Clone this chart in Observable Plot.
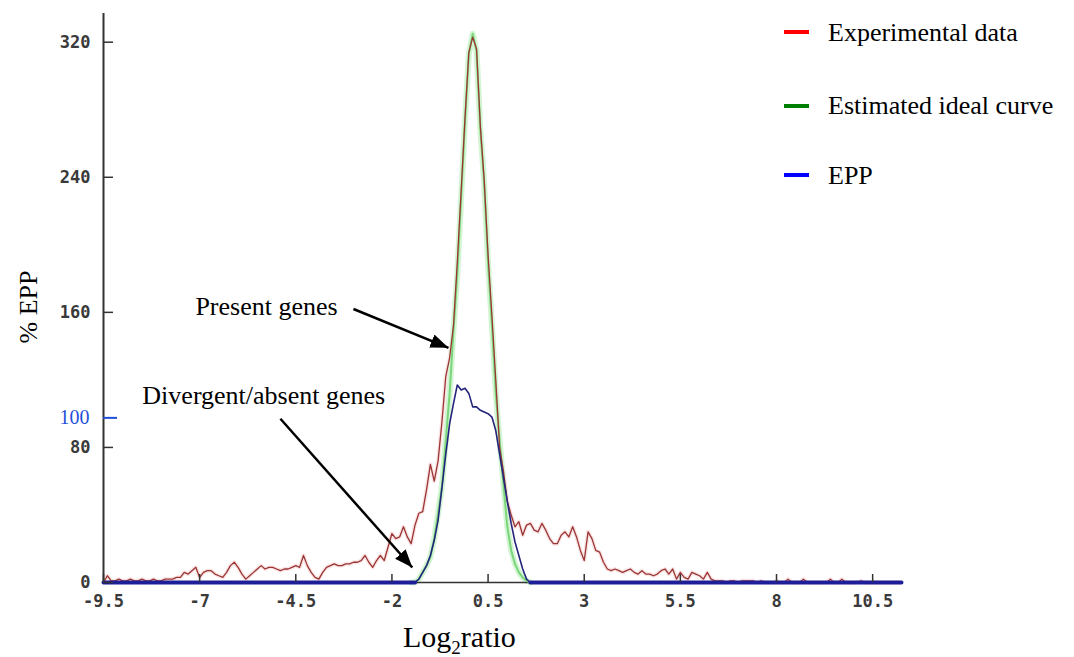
<!DOCTYPE html>
<html>
<head>
<meta charset="utf-8">
<script src="https://cdn.jsdelivr.net/npm/d3@7"></script>
<script src="https://cdn.jsdelivr.net/npm/@observablehq/plot@0.6"></script>
<style>
  body { margin: 0; background: #fff; }
  #wrap { position: relative; width: 1074px; height: 657px; overflow: hidden; background: #fff;
          font-family: "Liberation Serif", "Times New Roman", serif; color: #000; }
  #wrap svg { position: absolute; left: 0; top: 0; }
  .lg { position: absolute; font-size: 26px; line-height: 26px; white-space: nowrap; }
  .sw { position: absolute; width: 25px; height: 4px; }
  .xl { position: absolute; font-size: 30px; line-height: 30px; white-space: nowrap; }
  .xl span { font-size: 19px; position: relative; top: 7px; }
  .yl { position: absolute; font-size: 26px; line-height: 26px; white-space: nowrap;
        transform: translate(-50%, -50%) rotate(-90deg); }
</style>
</head>
<body>
<div id="wrap"></div>
<script>
// ---------- data ----------
const xDomain = [-9.5, 11.25];
const yDomain = [0, 337];
const xTicks = [-9.5, -7, -4.5, -2, 0.5, 3, 5.5, 8, 10.5];
const yTicks = [0, 80, 160, 240, 320];

// Experimental data (log2 ratio bins, % EPP)
const redX = [
  -9.5,-9.4,-9.3,-9.2,-9.1,-9.0,-8.9,-8.8,-8.7,-8.6,
  -8.5,-8.4,-8.3,-8.2,-8.1,-8.0,-7.9,-7.8,-7.7,-7.6,
  -7.5,-7.4,-7.3,-7.2,-7.1,-7.0,-6.9,-6.8,-6.7,-6.6,
  -6.5,-6.4,-6.3,-6.2,-6.1,-6.0,-5.9,-5.8,-5.7,-5.6,
  -5.5,-5.4,-5.3,-5.2,-5.1,-5.0,-4.9,-4.8,-4.7,-4.6,
  -4.5,-4.4,-4.3,-4.2,-4.1,-4.0,-3.9,-3.8,-3.7,-3.6,
  -3.5,-3.4,-3.3,-3.2,-3.1,-3.0,-2.9,-2.8,-2.7,-2.6,
  -2.5,-2.4,-2.3,-2.2,-2.1,-2.0,-1.9,-1.8,-1.7,-1.6,
  -1.5,-1.4,-1.3,-1.2,-1.1,-1.0,-0.9,-0.8,-0.7,-0.6,
  -0.5,-0.4,-0.3,-0.2,-0.1,0.0,0.1,0.2,0.3,0.4,
  0.5,0.6,0.7,0.8,0.9,1.0,1.1,1.2,1.3,1.4,
  1.5,1.6,1.7,1.8,1.9,2.0,2.1,2.2,2.3,2.4,
  2.5,2.6,2.7,2.8,2.9,3.0,3.1,3.2,3.3,3.4,
  3.5,3.6,3.7,3.8,3.9,4.0,4.1,4.2,4.3,4.4,
  4.5,4.6,4.7,4.8,4.9,5.0,5.1,5.2,5.3,5.4,
  5.5,5.6,5.7,5.8,5.9,6.0,6.1,6.2,6.3,6.4,
  6.5,6.6,6.7,6.8,6.9,7.0,7.1,7.2,7.3,7.4,
  7.5,7.6,7.7,7.8,7.9,8.0,8.1,8.2,8.3,8.4,
  8.5,8.6,8.7,8.8,8.9,9.0,9.1,9.2,9.3,9.4,
  9.5,9.6,9.7,9.8,9.9,10.0,10.1,10.2,10.3,10.4,
  10.5,10.6,10.7,10.8,10.9,11.0,11.1,11.2
];
const redY = [
  0,4,1,1,2,1,1,2,1,1,
  2,1,1,2,1,1,2,2,2,3,
  3,6,5,7,9,3,6,7,7,5,
  4,3,6,10,12,9,5,2,4,6,
  8,10,8,9,9,8,7,8,8,9,
  10,9,16,10,6,3,2,6,9,10,
  11,10,10,11,11,12,12,13,16,12,
  9,13,16,13,21,29,26,27,33,27,
  23,34,41,42,55,70,60,72,95,122,
  133,152,190,232,275,314,323,316,270,238,
  194,158,120,80,66,48,40,33,36,28,
  34,35,31,30,35,31,26,23,23,28,
  30,27,33,27,19,13,30,26,19,18,
  12,8,7,8,7,6,7,8,6,5,
  7,5,5,4,5,7,8,5,8,2,
  6,3,2,6,5,4,2,6,2,1,
  1,1,0,1,1,0,1,1,1,1,
  0,1,0,0,0,1,0,0,2,0,
  0,0,2,0,0,0,0,0,0,2,
  0,0,2,0,0,0,0,1,0,0,
  0,0,0,0,0,0,0,0
];

// Estimated ideal curve
const greenX = [-1.5,-1.4,-1.3,-1.2,-1.1,-1.0,-0.9,-0.8,-0.7,-0.6,-0.5,-0.4,-0.3,-0.2,-0.1,0.0,
                0.1,0.2,0.3,0.4,0.5,0.6,0.7,0.8,0.9,1.0,1.1,1.2,1.3,1.4,1.5,1.6];
const greenY = [0,0,2,6,10,15,26,41,57,84,112,149,182,228,273,313,
                325,315,268,236,189,152,112,84,58,33,19,11,6,3,1,0];

// EPP
const eppX = [-9.5,-1.5,-1.4,-1.3,-1.2,-1.1,-1.0,-0.9,-0.8,-0.7,-0.6,-0.5,-0.4,-0.3,-0.2,-0.1,0.0,
              0.1,0.2,0.3,0.4,0.5,0.6,0.7,0.8,0.9,1.0,1.1,1.2,1.3,1.4,1.5,1.6,11.25];
const eppY = [0,0,0,2,6,10,16,25,37,56,76,94,106,117,114,115,112,
              104,104,102,101,100,98,90,76,62,48,35,24,16,8,2,0,0];

// marker for the EPP 100 level (drawn slightly below 100 in the source)
const eppLevelPos = [97.5];
const eppLevelLabel = ["100"];

// annotations
const noteLabels = ["Present genes", "Divergent/absent genes"];
const noteX = [-7.11, -8.49];
const noteY = [158.6, 105.9];
const arrowX1 = [-3.0, -4.9];
const arrowY1 = [162, 97];
const arrowX2 = [-0.53, -1.47];
const arrowY2 = [139, 8.9];

const legendLabels = ["Experimental data", "Estimated ideal curve", "EPP"];
const legendColors = ["#ff0000", "#008000", "#0000ff"];

const yLabel = "% EPP";

// ---------- build ----------
const redData = redX.map((x, i) => ({x, y: redY[i]}));
const greenData = greenX.map((x, i) => ({x, y: greenY[i]}));
const eppData = eppX.map((x, i) => ({x, y: eppY[i]}));
const notes = noteLabels.map((label, i) => ({label, x: noteX[i], y: noteY[i]}));
const arrows = arrowX1.map((x1, i) => ({x1, y1: arrowY1[i], x2: arrowX2[i], y2: arrowY2[i]}));

function arrowHead(color) {
  const m = d3.create("svg:marker")
    .attr("viewBox", "-18 -7 18 14")
    .attr("markerWidth", 18)
    .attr("markerHeight", 14)
    .attr("markerUnits", "userSpaceOnUse")
    .attr("orient", "auto")
    .attr("fill", color)
    .attr("stroke", "none");
  m.append("path").attr("d", "M-18,-7L0,0L-18,7Z");
  return m.node();
}

const tickFont = {fontFamily: "DejaVu Sans Mono", fontSize: 17, fontWeight: "bold"};

const chart = Plot.plot({
  width: 1074,
  height: 657,
  marginLeft: 103,
  marginRight: 173,
  marginTop: 13,
  marginBottom: 75,
  x: {domain: xDomain, axis: null},
  y: {domain: yDomain, axis: null},
  style: {background: "transparent", overflow: "visible", fontFamily: "Liberation Serif"},
  marks: [
    // soft halos
    Plot.line(redData, {x: "x", y: "y", stroke: "#f4c6c6", strokeWidth: 4, strokeOpacity: 0.45}),
    Plot.line(greenData, {x: "x", y: "y", stroke: "#d4f5d4", strokeWidth: 6}),
    // axis lines
    Plot.ruleX([xDomain[0]], {stroke: "#333", strokeWidth: 2}),
    Plot.ruleY([yDomain[0]], {stroke: "#333", strokeWidth: 1.5}),
    // curves
    Plot.line(greenData, {x: "x", y: "y", stroke: "#7bd67b", strokeWidth: 2}),
    Plot.line(redData, {x: "x", y: "y", stroke: "#9b3535", strokeWidth: 1.3}),
    Plot.line(eppData, {x: "x", y: "y", stroke: "#24247c", strokeWidth: 1.6}),
    Plot.line(eppData, {x: "x", y: d => d.y === 0 ? 0 : NaN, stroke: "#1e1e96", strokeWidth: 4}),
    // axes
    Plot.axisY(yTicks, {tickSize: -10, fill: "none", stroke: "#333", strokeWidth: 1.5, label: null}),
    Plot.axisY(yTicks, {tickSize: 0, tickPadding: 13, fill: "#3a3a3a", label: null, tickFormat: d => String(d), ...tickFont}),
    Plot.axisX(xTicks, {tickSize: -8, fill: "none", stroke: "#333", strokeWidth: 1.5, label: null}),
    Plot.axisX(xTicks, {tickSize: 0, tickPadding: 12, fill: "#3a3a3a", label: null, tickFormat: d => String(d), ...tickFont}),
    // EPP 100 marker
    Plot.axisY(eppLevelPos, {tickSize: -14, fill: "none", stroke: "#1f4fd8", strokeWidth: 2, label: null}),
    Plot.axisY(eppLevelPos, {tickSize: 0, tickPadding: 14, fill: "#1f4fd8", label: null,
      tickFormat: (d, i) => eppLevelLabel[i], fontFamily: "Liberation Serif", fontSize: 20}),
    // annotations
    Plot.link(arrows, {x1: "x1", y1: "y1", x2: "x2", y2: "y2", stroke: "#000", strokeWidth: 2.5, markerEnd: arrowHead}),
    Plot.text(notes, {x: "x", y: "y", text: "label", textAnchor: "start", lineAnchor: "bottom", fontSize: 26, fontFamily: "Liberation Serif", fill: "#000"})
  ]
});

const wrap = document.getElementById("wrap");
wrap.appendChild(chart);

// legend (HTML overlay)
const legendTop = [20, 93, 163];
const swatchTop = [30, 104, 173];
legendLabels.forEach((label, i) => {
  const sw = document.createElement("div");
  sw.className = "sw";
  sw.style.left = "784px";
  sw.style.top = swatchTop[i] + "px";
  sw.style.background = legendColors[i];
  wrap.appendChild(sw);
  const t = document.createElement("div");
  t.className = "lg";
  t.style.left = "828px";
  t.style.top = legendTop[i] + "px";
  t.textContent = label;
  wrap.appendChild(t);
});

// y label (rotated)
const yl = document.createElement("div");
yl.className = "yl";
yl.style.left = "29px";
yl.style.top = "307px";
yl.textContent = yLabel;
wrap.appendChild(yl);

// x label with subscript
const xl = document.createElement("div");
xl.className = "xl";
xl.style.left = "403px";
xl.style.top = "622px";
xl.innerHTML = "Log<span>2</span>ratio";
wrap.appendChild(xl);
</script>
</body>
</html>
